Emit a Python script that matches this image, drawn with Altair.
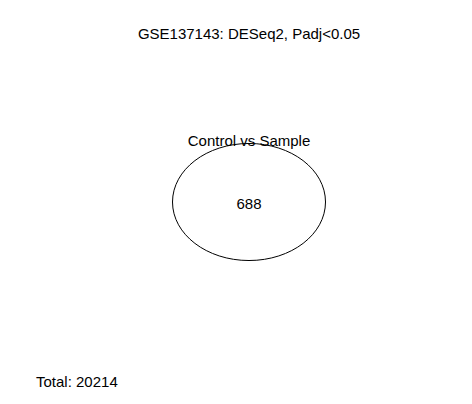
import altair as alt
import pandas as pd

title = "GSE137143: DESeq2, Padj<0.05"
set_names = ["Control vs Sample"]
set_counts = [688]
total = 20214

W, H = 456, 388

# layout positions (plot units = pixels of a 456x388 area)
labels = pd.DataFrame({
    "text": [title, set_names[0], str(set_counts[0]), f"Total: {total}"],
    "x": [241, 241, 241, 28],
    "y": [26, 133, 196, 374],
    "side": ["center", "center", "center", "left"],
})
ellipse = pd.DataFrame({"x": [241], "y": [194]})

xs = alt.Scale(domain=[0, W])
ys = alt.Scale(domain=[H, 0])

shape = "M -1 0 A 1 0.765 0 1 0 1 0 A 1 0.765 0 1 0 -1 0 Z"
ell = alt.Chart(ellipse).mark_point(
    shape=shape, size=306 * 306 / 4, filled=False, color="black", strokeWidth=1, opacity=1
).encode(x=alt.X("x:Q", scale=xs, axis=None), y=alt.Y("y:Q", scale=ys, axis=None))

def txt(df, align):
    return alt.Chart(df).mark_text(
        align=align, baseline="middle", font="Liberation Sans", fontSize=15, color="black"
    ).encode(x=alt.X("x:Q", scale=xs, axis=None), y=alt.Y("y:Q", scale=ys, axis=None), text="text:N")

chart = alt.layer(
    ell,
    txt(labels[labels["side"] == "center"], "center"),
    txt(labels[labels["side"] == "left"], "left"),
).properties(width=W, height=H, padding=0, autosize="none").configure_view(stroke=None)

chart.save("out.html", embed_options={"renderer": "svg", "actions": False})
